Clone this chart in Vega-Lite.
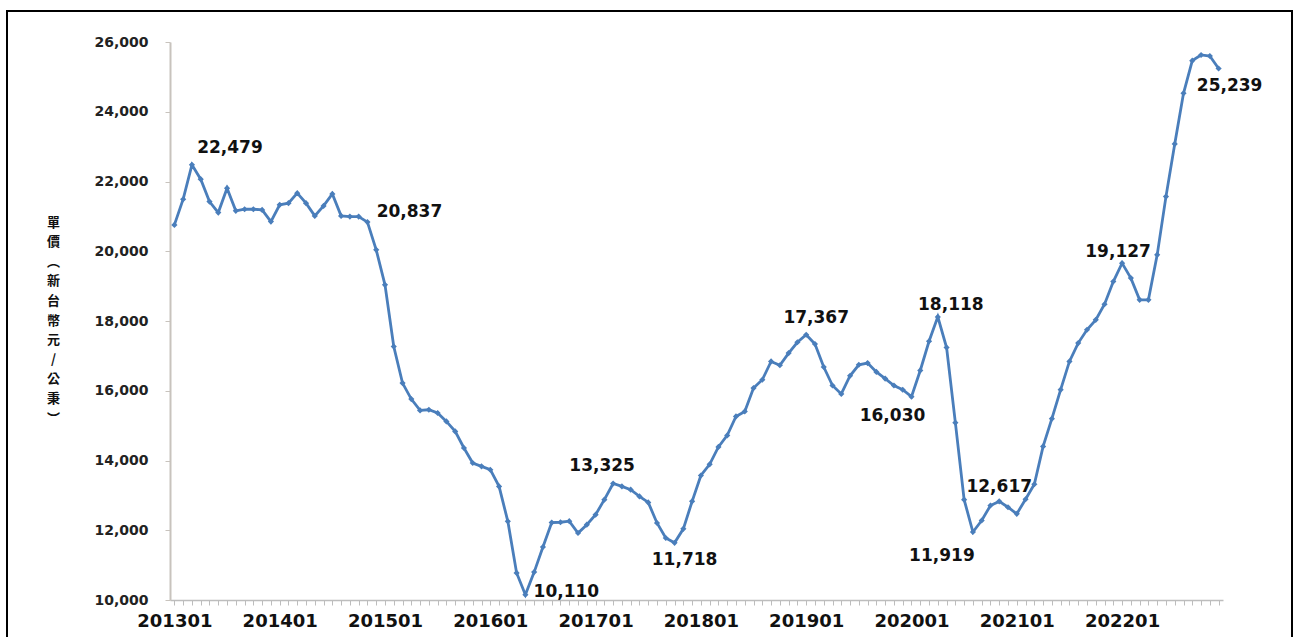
{
  "$schema": "https://vega.github.io/schema/vega-lite/v6.json",
  "width": 1285,
  "height": 630,
  "autosize": {"type": "none"},
  "padding": {"left": 7, "top": 11, "right": 2, "bottom": 0},
  "background": "white",
  "config": {"view": {"stroke": "#000000", "strokeWidth": 2}, "font": "DejaVu Sans"},
  "data": {"values": [
    {"month": "201301", "price": 20756},
    {"month": "201302", "price": 21492},
    {"month": "201303", "price": 22479, "label": "22,479"},
    {"month": "201304", "price": 22066},
    {"month": "201305", "price": 21424},
    {"month": "201306", "price": 21109},
    {"month": "201307", "price": 21808},
    {"month": "201308", "price": 21158},
    {"month": "201309", "price": 21205},
    {"month": "201310", "price": 21205},
    {"month": "201311", "price": 21186},
    {"month": "201312", "price": 20851},
    {"month": "201401", "price": 21330},
    {"month": "201402", "price": 21378},
    {"month": "201403", "price": 21665},
    {"month": "201404", "price": 21378},
    {"month": "201405", "price": 21014},
    {"month": "201406", "price": 21301},
    {"month": "201407", "price": 21645},
    {"month": "201408", "price": 21014},
    {"month": "201409", "price": 20994},
    {"month": "201410", "price": 20994},
    {"month": "201411", "price": 20837, "label": "20,837"},
    {"month": "201412", "price": 20040},
    {"month": "201501", "price": 19037},
    {"month": "201502", "price": 17270},
    {"month": "201503", "price": 16220},
    {"month": "201504", "price": 15762},
    {"month": "201505", "price": 15436},
    {"month": "201506", "price": 15455},
    {"month": "201507", "price": 15361},
    {"month": "201508", "price": 15121},
    {"month": "201509", "price": 14834},
    {"month": "201510", "price": 14358},
    {"month": "201511", "price": 13928},
    {"month": "201512", "price": 13833},
    {"month": "201601", "price": 13736},
    {"month": "201602", "price": 13258},
    {"month": "201603", "price": 12255},
    {"month": "201604", "price": 10777},
    {"month": "201605", "price": 10150, "label": "10,110"},
    {"month": "201606", "price": 10800},
    {"month": "201607", "price": 11520},
    {"month": "201608", "price": 12220},
    {"month": "201609", "price": 12230},
    {"month": "201610", "price": 12260},
    {"month": "201611", "price": 11920},
    {"month": "201612", "price": 12160},
    {"month": "201701", "price": 12447},
    {"month": "201702", "price": 12877},
    {"month": "201703", "price": 13340, "label": "13,325"},
    {"month": "201704", "price": 13258},
    {"month": "201705", "price": 13163},
    {"month": "201706", "price": 12971},
    {"month": "201707", "price": 12799},
    {"month": "201708", "price": 12209},
    {"month": "201709", "price": 11779},
    {"month": "201710", "price": 11640, "label": "11,718"},
    {"month": "201711", "price": 12040},
    {"month": "201712", "price": 12828},
    {"month": "201801", "price": 13570},
    {"month": "201802", "price": 13890},
    {"month": "201803", "price": 14390},
    {"month": "201804", "price": 14720},
    {"month": "201805", "price": 15264},
    {"month": "201806", "price": 15407},
    {"month": "201807", "price": 16077},
    {"month": "201808", "price": 16315},
    {"month": "201809", "price": 16840},
    {"month": "201810", "price": 16730},
    {"month": "201811", "price": 17080},
    {"month": "201812", "price": 17390},
    {"month": "201901", "price": 17605, "label": "17,367"},
    {"month": "201902", "price": 17340},
    {"month": "201903", "price": 16680},
    {"month": "201904", "price": 16150},
    {"month": "201905", "price": 15910},
    {"month": "201906", "price": 16430},
    {"month": "201907", "price": 16745},
    {"month": "201908", "price": 16794},
    {"month": "201909", "price": 16540},
    {"month": "201910", "price": 16350},
    {"month": "201911", "price": 16150},
    {"month": "201912", "price": 16029},
    {"month": "202001", "price": 15830, "label": "16,030"},
    {"month": "202002", "price": 16582},
    {"month": "202003", "price": 17420},
    {"month": "202004", "price": 18118, "label": "18,118"},
    {"month": "202005", "price": 17240},
    {"month": "202006", "price": 15085},
    {"month": "202007", "price": 12877},
    {"month": "202008", "price": 11950, "label": "11,919"},
    {"month": "202009", "price": 12280},
    {"month": "202010", "price": 12710},
    {"month": "202011", "price": 12828, "label": "12,617"},
    {"month": "202012", "price": 12660},
    {"month": "202101", "price": 12470},
    {"month": "202102", "price": 12890},
    {"month": "202103", "price": 13320},
    {"month": "202104", "price": 14404},
    {"month": "202105", "price": 15200},
    {"month": "202106", "price": 16030},
    {"month": "202107", "price": 16840},
    {"month": "202108", "price": 17367},
    {"month": "202109", "price": 17748},
    {"month": "202110", "price": 18034},
    {"month": "202111", "price": 18480},
    {"month": "202112", "price": 19132},
    {"month": "202201", "price": 19659, "label": "19,127"},
    {"month": "202202", "price": 19230},
    {"month": "202203", "price": 18607},
    {"month": "202204", "price": 18607},
    {"month": "202205", "price": 19897},
    {"month": "202206", "price": 21567},
    {"month": "202207", "price": 23077},
    {"month": "202208", "price": 24530},
    {"month": "202209", "price": 25464},
    {"month": "202210", "price": 25628},
    {"month": "202211", "price": 25599},
    {"month": "202212", "price": 25239, "label": "25,239"}
  ]},
  "encoding": {
    "x": {
      "field": "month", "type": "ordinal", "sort": null,
      "scale": {"type": "point", "range": [163, 1216], "padding": 0.5},
      "axis": {
        "title": null,
        "labelExpr": "substring(datum.value, 4) == '01' ? datum.value : ''",
        "labelAngle": 0, "labelFont": "DejaVu Sans", "labelFontSize": 18, "labelFontWeight": "bold",
        "labelColor": "#111111", "labelPadding": 7, "labelOverlap": false, "labelBound": false, "labelFlush": false,
        "tickColor": "#bdbdbd", "tickSize": 5, "tickWidth": 1,
        "domainColor": "#bdbdbd", "domainWidth": 1.5,
        "offset": -41, "grid": false
      }
    },
    "y": {
      "field": "price", "type": "quantitative",
      "scale": {"domain": [10000, 26000], "range": [589, 31], "nice": false, "zero": false},
      "axis": {
        "title": ["單", "價", "︵", "新", "台", "幣", "元", "/", "公", "秉", "︶"],
        "titleAngle": 0, "titleX": -117, "titleY": 211, "titleAlign": "center", "titleBaseline": "middle",
        "titleFont": "Noto Sans CJK TC", "titleFontSize": 13, "titleFontWeight": "bold", "titleLineHeight": 19.6, "titleColor": "#111111",
        "values": [10000, 12000, 14000, 16000, 18000, 20000, 22000, 24000, 26000],
        "format": ",.0f",
        "labelFont": "DejaVu Sans", "labelFontSize": 14, "labelFontWeight": "bold", "labelColor": "#222222", "labelPadding": 17,
        "tickColor": "#c8c3bd", "tickSize": 5,
        "domainColor": "#c8c3bd", "domainWidth": 2,
        "offset": -163, "grid": false
      }
    }
  },
  "layer": [
    {"mark": {"type": "line", "color": "#4A7EBB", "strokeWidth": 2.8}},
    {"mark": {"type": "point", "shape": "diamond", "filled": true, "size": 38, "color": "#4A7EBB", "opacity": 1}},
    {"transform": [{"filter": "datum.label == '22,479'"}], "mark": {"type": "text", "dx": 38, "dy": -17, "fontSize": 17, "fontWeight": "bold", "font": "DejaVu Sans", "color": "#111111"}, "encoding": {"text": {"field": "label"}}},
    {"transform": [{"filter": "datum.label == '20,837'"}], "mark": {"type": "text", "dx": 42, "dy": -10, "fontSize": 17, "fontWeight": "bold", "font": "DejaVu Sans", "color": "#111111"}, "encoding": {"text": {"field": "label"}}},
    {"transform": [{"filter": "datum.label == '10,110'"}], "mark": {"type": "text", "dx": 41, "dy": -3, "fontSize": 17, "fontWeight": "bold", "font": "DejaVu Sans", "color": "#111111"}, "encoding": {"text": {"field": "label"}}},
    {"transform": [{"filter": "datum.label == '13,325'"}], "mark": {"type": "text", "dx": -11, "dy": -18, "fontSize": 17, "fontWeight": "bold", "font": "DejaVu Sans", "color": "#111111"}, "encoding": {"text": {"field": "label"}}},
    {"transform": [{"filter": "datum.label == '11,718'"}], "mark": {"type": "text", "dx": 10, "dy": 17, "fontSize": 17, "fontWeight": "bold", "font": "DejaVu Sans", "color": "#111111"}, "encoding": {"text": {"field": "label"}}},
    {"transform": [{"filter": "datum.label == '17,367'"}], "mark": {"type": "text", "dx": 10, "dy": -17, "fontSize": 17, "fontWeight": "bold", "font": "DejaVu Sans", "color": "#111111"}, "encoding": {"text": {"field": "label"}}},
    {"transform": [{"filter": "datum.label == '16,030'"}], "mark": {"type": "text", "dx": -19, "dy": 19, "fontSize": 17, "fontWeight": "bold", "font": "DejaVu Sans", "color": "#111111"}, "encoding": {"text": {"field": "label"}}},
    {"transform": [{"filter": "datum.label == '18,118'"}], "mark": {"type": "text", "dx": 13, "dy": -12, "fontSize": 17, "fontWeight": "bold", "font": "DejaVu Sans", "color": "#111111"}, "encoding": {"text": {"field": "label"}}},
    {"transform": [{"filter": "datum.label == '11,919'"}], "mark": {"type": "text", "dx": -31, "dy": 24, "fontSize": 17, "fontWeight": "bold", "font": "DejaVu Sans", "color": "#111111"}, "encoding": {"text": {"field": "label"}}},
    {"transform": [{"filter": "datum.label == '12,617'"}], "mark": {"type": "text", "dx": 0, "dy": -14, "fontSize": 17, "fontWeight": "bold", "font": "DejaVu Sans", "color": "#111111"}, "encoding": {"text": {"field": "label"}}},
    {"transform": [{"filter": "datum.label == '19,127'"}], "mark": {"type": "text", "dx": -4, "dy": -11, "fontSize": 17, "fontWeight": "bold", "font": "DejaVu Sans", "color": "#111111"}, "encoding": {"text": {"field": "label"}}},
    {"transform": [{"filter": "datum.label == '25,239'"}], "mark": {"type": "text", "dx": 11, "dy": 17, "fontSize": 17, "fontWeight": "bold", "font": "DejaVu Sans", "color": "#111111"}, "encoding": {"text": {"field": "label"}}}
  ]
}
